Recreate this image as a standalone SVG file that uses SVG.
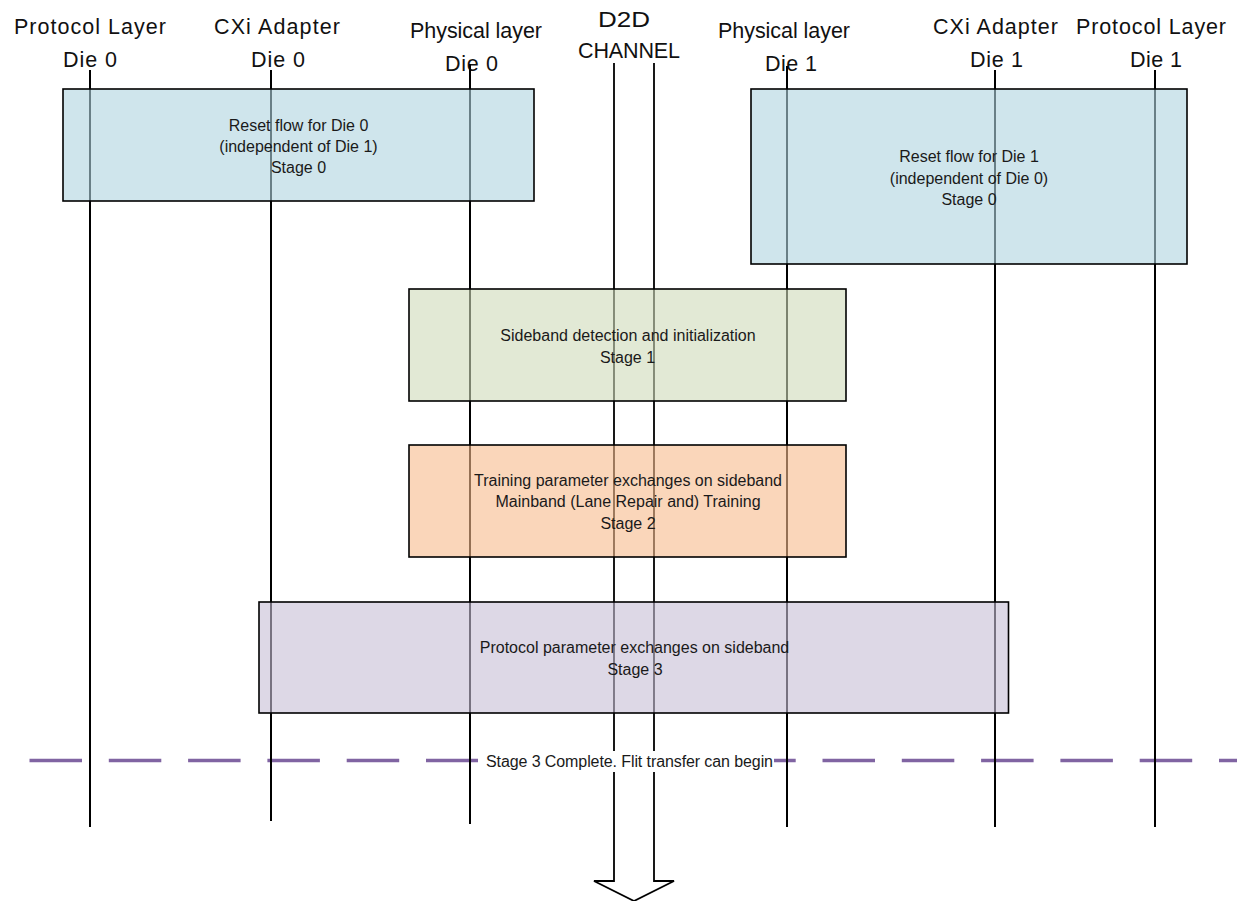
<svg xmlns="http://www.w3.org/2000/svg" width="1237" height="901" viewBox="0 0 1237 901">
  <style>
    .hdr { font-family: "Liberation Sans", Arial, sans-serif; font-size: 21.5px; fill: #111; text-anchor: middle; }
    .lbl { font-family: "Liberation Sans", Arial, sans-serif; font-size: 16px; fill: #1a1a1a; text-anchor: middle; }
    .life { stroke: #000; stroke-width: 2; fill: none; }
    .stage { stroke: #000; stroke-width: 1.6; fill-opacity: 0.6; }
    .s0 { fill: #AFD4DF; }
    .s1 { fill: #CFDAB9; }
    .s2 { fill: #F7BB8C; }
    .s3 { fill: #C6BED5; }
    .milestone { stroke: #8064A2; stroke-width: 3.4; stroke-dasharray: 52.5 26.8; fill: none; }
  </style>

  <!-- completion milestone line (drawn under the lifelines) -->
  <g id="milestone">
    <line class="milestone" x1="29.5" y1="760.5" x2="1237" y2="760.5"/>
  </g>

  <!-- lifelines -->
  <g id="protocol-die0">
    <text class="hdr" x="90" y="34" textLength="152" lengthAdjust="spacing">Protocol Layer</text>
    <text class="hdr" x="90" y="67" textLength="54" lengthAdjust="spacing">Die 0</text>
    <line class="life" x1="90" y1="70" x2="90" y2="827"/>
  </g>
  <g id="cxi-die0">
    <text class="hdr" x="277" y="34" textLength="126" lengthAdjust="spacing">CXi Adapter</text>
    <text class="hdr" x="278" y="67" textLength="54" lengthAdjust="spacing">Die 0</text>
    <line class="life" x1="271" y1="70" x2="271" y2="821"/>
  </g>
  <g id="phy-die0">
    <text class="hdr" x="476" y="38" textLength="132" lengthAdjust="spacing">Physical layer</text>
    <text class="hdr" x="471.5" y="71" textLength="53" lengthAdjust="spacing">Die 0</text>
    <line class="life" x1="470" y1="64" x2="470" y2="824"/>
  </g>
  <g id="phy-die1">
    <text class="hdr" x="784" y="38" textLength="132" lengthAdjust="spacing">Physical layer</text>
    <text class="hdr" x="791" y="71" textLength="52" lengthAdjust="spacing">Die 1</text>
    <line class="life" x1="787" y1="66" x2="787" y2="827"/>
  </g>
  <g id="cxi-die1">
    <text class="hdr" x="995.5" y="34" textLength="125" lengthAdjust="spacing">CXi Adapter</text>
    <text class="hdr" x="996.5" y="67" textLength="53" lengthAdjust="spacing">Die 1</text>
    <line class="life" x1="995" y1="70" x2="995" y2="827"/>
  </g>
  <g id="protocol-die1">
    <text class="hdr" x="1151" y="34" textLength="150" lengthAdjust="spacing">Protocol Layer</text>
    <text class="hdr" x="1156" y="67" textLength="52" lengthAdjust="spacing">Die 1</text>
    <line class="life" x1="1155" y1="70" x2="1155" y2="827"/>
  </g>

  <!-- die-to-die channel with its downward arrow -->
  <g id="connectors">
    <g id="d2d-channel">
      <text class="hdr" x="624" y="27" textLength="52" lengthAdjust="spacingAndGlyphs">D2D</text>
      <text class="hdr" x="629" y="58" textLength="102" lengthAdjust="spacing">CHANNEL</text>
      <path d="M614,63 V881 H594 L634,901 L674,881 H654 V63" fill="none" stroke="#000" stroke-width="1.8"/>
    </g>
  </g>

  <!-- stage boxes -->
  <g id="stage0-die0">
    <rect class="stage s0" x="63" y="89" width="471" height="112"/>
    <text class="lbl" x="298.5" y="131">Reset flow for Die 0</text>
    <text class="lbl" x="298.5" y="152">(independent of Die 1)</text>
    <text class="lbl" x="298.5" y="172.5">Stage 0</text>
  </g>
  <g id="stage0-die1">
    <rect class="stage s0" x="751" y="89" width="436" height="175"/>
    <text class="lbl" x="969" y="162.3">Reset flow for Die 1</text>
    <text class="lbl" x="969" y="183.5">(independent of Die 0)</text>
    <text class="lbl" x="969" y="204.7">Stage 0</text>
  </g>
  <g id="stage1">
    <rect class="stage s1" x="409" y="289" width="437" height="112"/>
    <text class="lbl" x="628" y="341.3">Sideband detection and initialization</text>
    <text class="lbl" x="627.5" y="362.8">Stage 1</text>
  </g>
  <g id="stage2">
    <rect class="stage s2" x="409" y="445" width="437" height="112"/>
    <text class="lbl" x="628" y="485.7">Training parameter exchanges on sideband</text>
    <text class="lbl" x="628" y="507">Mainband (Lane Repair and) Training</text>
    <text class="lbl" x="628" y="528.5">Stage 2</text>
  </g>
  <g id="stage3">
    <rect class="stage s3" x="259" y="602" width="749.5" height="111"/>
    <text class="lbl" x="634.5" y="653">Protocol parameter exchanges on sideband</text>
    <text class="lbl" x="635" y="675">Stage 3</text>
  </g>

  <!-- milestone caption on a white plate -->
  <g id="milestone-label">
    <rect x="478" y="751" width="296" height="21" fill="#fff"/>
    <text class="lbl" x="629.5" y="767" textLength="287" lengthAdjust="spacing">Stage 3 Complete. Flit transfer can begin</text>
  </g>
</svg>
